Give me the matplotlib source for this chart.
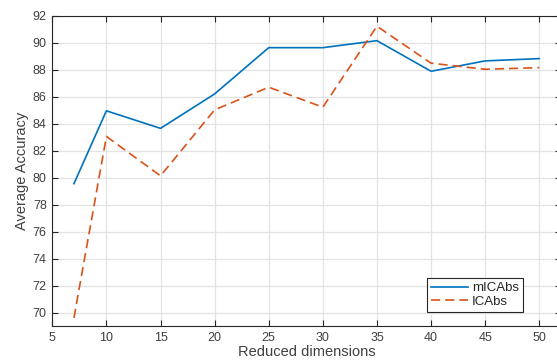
import matplotlib
matplotlib.use("Agg")
import matplotlib.pyplot as plt

dims = [7, 10, 15, 20, 25, 30, 35, 40, 45, 50]
micabs = [79.55, 84.95, 83.65, 86.2, 89.63, 89.63, 90.15, 87.88, 88.65, 88.82]
icabs = [69.6, 83.05, 80.13, 85.02, 86.7, 85.22, 91.22, 88.48, 88.03, 88.15]
xticks = [5, 10, 15, 20, 25, 30, 35, 40, 45, 50]
yticks = [70, 72, 74, 76, 78, 80, 82, 84, 86, 88, 90, 92]

plt.rcParams['font.family'] = ['Liberation Sans', 'DejaVu Sans']

W, H = 557, 361
fig = plt.figure(figsize=(W / 100, H / 100), dpi=100)
left, right, top, bottom = 52.3, 560.9, 15.7, 326.0
ax = fig.add_axes([left / W, 1 - bottom / H, (right - left) / W, (bottom - top) / H])

ax.plot(dims, micabs, color='#0072BD', lw=1.2, label='mICAbs')
ax.plot(dims, icabs, color='#D95319', lw=1.2, dashes=(5.5, 3.0), label='ICAbs')

ax.set_xlim(5, 52)
ax.set_ylim(69, 92)
ax.set_xticks(xticks)
ax.set_yticks(yticks)
ax.grid(True, color='#e3e3e3', lw=0.9)
ax.set_axisbelow(True)
for s in ax.spines.values():
    s.set_color('#262626')
    s.set_linewidth(0.8)
ax.tick_params(direction='in', length=4, width=0.8, color='#262626',
               top=True, right=True, labelsize=9, labelcolor='#404040', pad=4)

ax.set_xlabel('Reduced dimensions', fontsize=10.5, color='#404040', labelpad=1)
ax.set_ylabel('Average Accuracy', fontsize=10.5, color='#404040', labelpad=3)

leg = ax.legend(loc='lower right', bbox_to_anchor=(522.7 / W, 1 - 312 / H),
                bbox_transform=fig.transFigure, fontsize=9.5, frameon=True,
                fancybox=False, framealpha=1, edgecolor='#262626',
                borderpad=0.3, labelspacing=0.1, handlelength=2.8,
                handletextpad=0.3, borderaxespad=0)
leg.get_frame().set_linewidth(0.8)
for t in leg.get_texts():
    t.set_color('#262626')

fig.savefig('out.png', dpi=100)
